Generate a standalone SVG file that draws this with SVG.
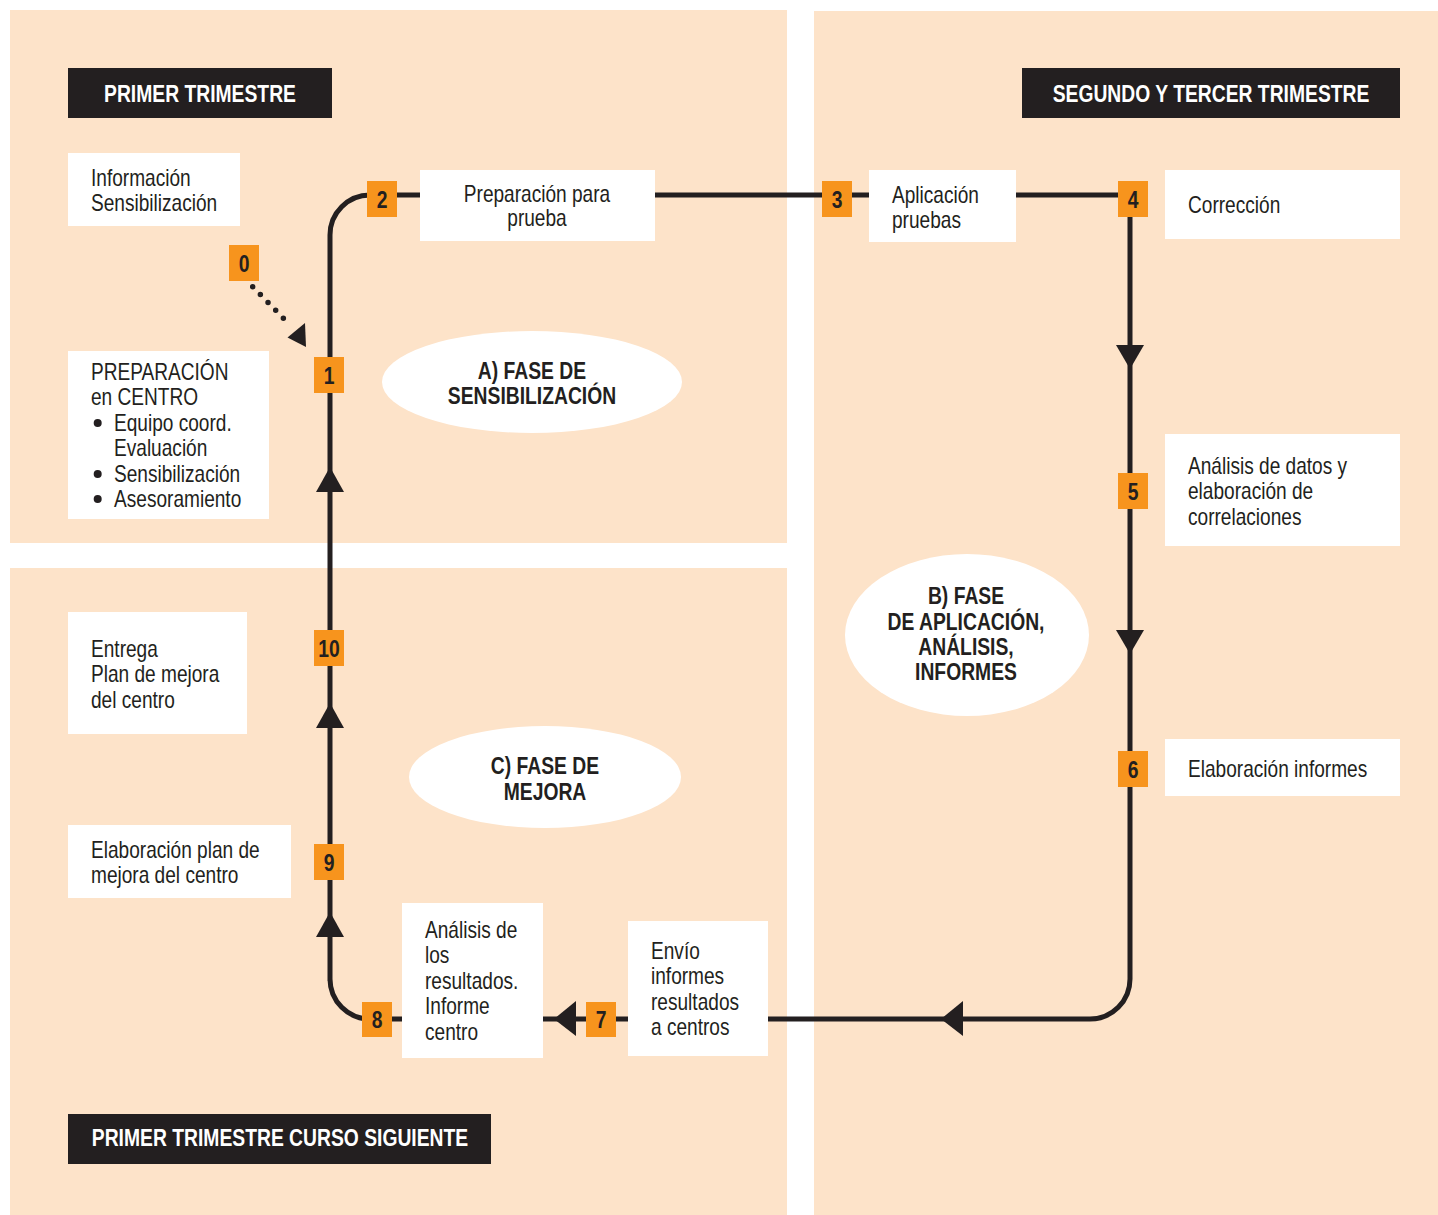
<svg xmlns="http://www.w3.org/2000/svg" width="1438" height="1215" viewBox="0 0 1438 1215">
<style>
.panel{fill:#FDE3C9}
.box{fill:#ffffff}
.hdr{fill:#231f20}
.num{fill:#F7941D}
.ell{fill:#ffffff}
.t{font-family:"Liberation Sans",Arial,sans-serif;font-size:23px;fill:#231f20}
.b{font-weight:bold}
.w{fill:#ffffff;font-weight:bold}
.n{font-family:"Liberation Sans",Arial,sans-serif;font-size:23px;font-weight:bold;fill:#231f20;text-anchor:middle}
.c{text-anchor:middle}
.line{fill:none;stroke:#231f20;stroke-width:5;stroke-linejoin:miter}
.arr{fill:#231f20}
</style>
<rect width="1438" height="1215" fill="#ffffff"/>
<g id="panels">
<rect class="panel" x="10" y="10" width="777" height="533"/>
<rect class="panel" x="814" y="11" width="624" height="1204"/>
<rect class="panel" x="10" y="568" width="777" height="647"/>
</g>
<g id="connectors">
<path class="line" d="M330 981 L330 235 A40 40 0 0 1 370 195 L1130 195 L1130 979 A40 40 0 0 1 1090 1019 L370 1019 A40 40 0 0 1 330 979"/>
<polygon class="arr" points="330,467 316,492 344,492"/>
<polygon class="arr" points="330,703 316,728 344,728"/>
<polygon class="arr" points="330,912 316,937 344,937"/>
<polygon class="arr" points="1130,369 1116,345 1144,345"/>
<polygon class="arr" points="1130,654 1116,630 1144,630"/>
<polygon class="arr" points="941,1019 963,1001 963,1036"/>
<polygon class="arr" points="554,1019 576,1001 576,1036"/>
<line x1="252.7" y1="286.7" x2="291" y2="326" stroke="#231f20" stroke-width="5.5" stroke-linecap="round" stroke-dasharray="0 10.98"/>
<polygon class="arr" points="305,323 287.5,337.5 306,347"/>
</g>
<g id="header-primer">
<rect class="hdr" x="68" y="68" width="264" height="50"/>
<text class="t w c" transform="translate(200,102) scale(0.84,1)">PRIMER TRIMESTRE</text>
</g>
<g id="header-segundo">
<rect class="hdr" x="1022" y="68" width="378" height="50"/>
<text class="t w c" transform="translate(1211,102) scale(0.84,1)">SEGUNDO Y TERCER TRIMESTRE</text>
</g>
<g id="header-siguiente">
<rect class="hdr" x="68" y="1114" width="423" height="50"/>
<text class="t w c" transform="translate(280,1146) scale(0.84,1)">PRIMER TRIMESTRE CURSO SIGUIENTE</text>
</g>
<g id="node-informacion">
<rect class="box" x="68" y="153" width="172" height="73"/>
<text class="t" transform="translate(91,186) scale(0.83,1)"><tspan x="0" y="0">Información</tspan><tspan x="0" y="25">Sensibilización</tspan></text>
</g>
<g id="node-preparacion-centro">
<rect class="box" x="68" y="351" width="201" height="168"/>
<text class="t" transform="translate(91,380) scale(0.83,1)"><tspan x="0" y="0">PREPARACIÓN</tspan><tspan x="0" y="25">en CENTRO</tspan></text>
<circle class="arr" cx="97.7" cy="423" r="4"/>
<circle class="arr" cx="97.7" cy="474" r="4"/>
<circle class="arr" cx="97.7" cy="499" r="4"/>
<text class="t" transform="translate(114,431) scale(0.83,1)"><tspan x="0" y="0">Equipo coord.</tspan><tspan x="0" y="25">Evaluación</tspan><tspan x="0" y="51">Sensibilización</tspan><tspan x="0" y="76">Asesoramiento</tspan></text>
</g>
<g id="node-preparacion-prueba">
<rect class="box" x="420" y="170" width="235" height="71"/>
<text class="t c" transform="translate(537,201.5) scale(0.83,1)"><tspan x="0" y="0">Preparación para</tspan><tspan x="0" y="25">prueba</tspan></text>
</g>
<g id="node-aplicacion">
<rect class="box" x="869" y="170" width="147" height="72"/>
<text class="t" transform="translate(892,203) scale(0.83,1)"><tspan x="0" y="0">Aplicación</tspan><tspan x="0" y="25">pruebas</tspan></text>
</g>
<g id="node-correccion">
<rect class="box" x="1165" y="170" width="235" height="69"/>
<text class="t" transform="translate(1188,213) scale(0.83,1)">Corrección</text>
</g>
<g id="node-analisis-datos">
<rect class="box" x="1165" y="434" width="235" height="112"/>
<text class="t" transform="translate(1188,474) scale(0.83,1)"><tspan x="0" y="0">Análisis de datos y</tspan><tspan x="0" y="25.5">elaboración de</tspan><tspan x="0" y="51">correlaciones</tspan></text>
</g>
<g id="node-elaboracion-informes">
<rect class="box" x="1165" y="739" width="235" height="57"/>
<text class="t" transform="translate(1188,777) scale(0.83,1)">Elaboración informes</text>
</g>
<g id="node-envio">
<rect class="box" x="628" y="921" width="140" height="135"/>
<text class="t" transform="translate(651,959) scale(0.83,1)"><tspan x="0" y="0">Envío</tspan><tspan x="0" y="25.5">informes</tspan><tspan x="0" y="51">resultados</tspan><tspan x="0" y="76.5">a centros</tspan></text>
</g>
<g id="node-analisis-resultados">
<rect class="box" x="402" y="903" width="141" height="155"/>
<text class="t" transform="translate(425,938) scale(0.83,1)"><tspan x="0" y="0">Análisis de</tspan><tspan x="0" y="25.5">los</tspan><tspan x="0" y="51">resultados.</tspan><tspan x="0" y="76.5">Informe</tspan><tspan x="0" y="102">centro</tspan></text>
</g>
<g id="node-elaboracion-plan">
<rect class="box" x="68" y="825" width="223" height="73"/>
<text class="t" transform="translate(91,858) scale(0.83,1)"><tspan x="0" y="0">Elaboración plan de</tspan><tspan x="0" y="25">mejora del centro</tspan></text>
</g>
<g id="node-entrega">
<rect class="box" x="68" y="612" width="179" height="122"/>
<text class="t" transform="translate(91,657) scale(0.83,1)"><tspan x="0" y="0">Entrega</tspan><tspan x="0" y="25">Plan de mejora</tspan><tspan x="0" y="51">del centro</tspan></text>
</g>
<g id="phase-a">
<ellipse class="ell" cx="532" cy="382" rx="150" ry="51"/>
<text class="t b c" transform="translate(532,379) scale(0.84,1)"><tspan x="0" y="0">A) FASE DE</tspan><tspan x="0" y="25">SENSIBILIZACIÓN</tspan></text>
</g>
<g id="phase-b">
<ellipse class="ell" cx="967" cy="635" rx="122" ry="81"/>
<text class="t b c" transform="translate(966,604) scale(0.84,1)"><tspan x="0" y="0">B) FASE</tspan><tspan x="0" y="26">DE APLICACIÓN,</tspan><tspan x="0" y="51">ANÁLISIS,</tspan><tspan x="0" y="76">INFORMES</tspan></text>
</g>
<g id="phase-c">
<ellipse class="ell" cx="545" cy="777" rx="136" ry="51"/>
<text class="t b c" transform="translate(545,774) scale(0.84,1)"><tspan x="0" y="0">C) FASE DE</tspan><tspan x="0" y="26">MEJORA</tspan></text>
</g>
<g id="step-0"><rect class="num" x="229" y="245" width="30" height="36"/><text class="n" transform="translate(244,271.5) scale(0.84,1)">0</text></g>
<g id="step-1"><rect class="num" x="314" y="357" width="30" height="36"/><text class="n" transform="translate(329,383.5) scale(0.84,1)">1</text></g>
<g id="step-2"><rect class="num" x="367" y="181" width="30" height="36"/><text class="n" transform="translate(382,207.5) scale(0.84,1)">2</text></g>
<g id="step-3"><rect class="num" x="822" y="181" width="30" height="36"/><text class="n" transform="translate(837,207.5) scale(0.84,1)">3</text></g>
<g id="step-4"><rect class="num" x="1118" y="181" width="30" height="36"/><text class="n" transform="translate(1133,207.5) scale(0.84,1)">4</text></g>
<g id="step-5"><rect class="num" x="1118" y="473" width="30" height="36"/><text class="n" transform="translate(1133,499.5) scale(0.84,1)">5</text></g>
<g id="step-6"><rect class="num" x="1118" y="751" width="30" height="36"/><text class="n" transform="translate(1133,777.5) scale(0.84,1)">6</text></g>
<g id="step-7"><rect class="num" x="586" y="1002" width="30" height="35"/><text class="n" transform="translate(601,1028) scale(0.84,1)">7</text></g>
<g id="step-8"><rect class="num" x="362" y="1002" width="30" height="35"/><text class="n" transform="translate(377,1028) scale(0.84,1)">8</text></g>
<g id="step-9"><rect class="num" x="314" y="844" width="30" height="36"/><text class="n" transform="translate(329,870.5) scale(0.84,1)">9</text></g>
<g id="step-10"><rect class="num" x="314" y="630" width="30" height="36"/><text class="n" transform="translate(329,656.5) scale(0.84,1)">10</text></g>
</svg>
